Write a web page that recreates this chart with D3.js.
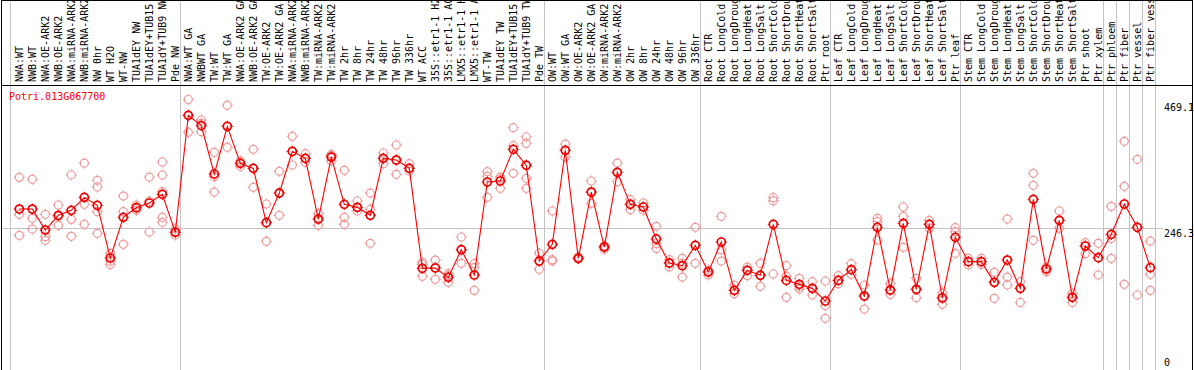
<!DOCTYPE html>
<html><head><meta charset="utf-8">
<script src="https://cdn.jsdelivr.net/npm/d3@7"></script>
<style>
html,body{margin:0;padding:0;background:#fff;overflow:hidden}
text{font-family:"DejaVu Sans Mono",monospace;font-size:10px}
</style>
</head><body>
<svg id="chart" width="1194" height="370"></svg>
<script>
const geneId = "Potri.013G067700";

const categories = [
  "NWA:WT","NWB:WT","NWA:OE-ARK2","NWB:OE-ARK2","NWA:miRNA-ARK2","NWB:miRNA-ARK2","NW 0hr","WT H2O","WT-NW","TUA1dEY NW","TUA1dEY+TUB15 NW","TUA1dY+TUB9 NW","Pde NW",
  "NWA:WT GA","NWBWT GA","TW:WT","TW:WT GA","NWA:OE-ARK2 GA","NWB:OE-ARK2 GA","TW:OE-ARK2","TW:OE-ARK2 GA","NWA:miRNA-ARK2","NWB:miRNA-ARK2","TW:miRNA-ARK2","TW:miRNA-ARK2 GA","TW 2hr","TW 8hr","TW 24hr","TW 48hr","TW 96hr","TW 336hr","WT ACC","35S::etr1-1 H2O","35S::etr1-1 ACC","LMX5::etr1-1 H2O","LMX5::etr1-1 ACC","WT-TW","TUA1dEY TW","TUA1dEY+TUB15 TW","TUA1dY+TUB9 TW","Pde TW",
  "OW:WT","OW:WT GA","OW:OE-ARK2","OW:OE-ARK2 GA","OW:miRNA-ARK2","OW:miRNA-ARK2 GA","OW 2hr","OW 8hr","OW 24hr","OW 48hr","OW 96hr","OW 336hr",
  "Root CTR","Root LongCold","Root LongDrought","Root LongHeat","Root LongSalt","Root ShortCold","Root ShortDrought","Root ShortHeat","Root ShortSalt","Ptr root",
  "Leaf CTR","Leaf LongCold","Leaf LongDrought","Leaf LongHeat","Leaf LongSalt","Leaf ShortCold","Leaf ShortDrought","Leaf ShortHeat","Leaf ShortSalt","Ptr leaf",
  "Stem CTR","Stem LongCold","Stem LongDrought","Stem LongHeat","Stem LongSalt","Stem ShortCold","Stem ShortDrought","Stem ShortHeat","Stem ShortSalt","Ptr shoot","Ptr xylem",
  "Ptr phloem","Ptr fiber","Ptr vessel","Ptr fiber vessel"
];

// index of the last sample of each group (a grey separator follows it)
const groupEnds = [12, 40, 52, 62, 72, 83, 84, 85, 86, 87];

const means = [
  279.5,279.5,243.2,268.6,277.2,299.7,285.9,194.7,265.1,281.8,289.9,304.9,239.1,
  441.7,423.8,340.1,422.6,358.6,349.9,255.9,307.2,379.3,367.2,262.2,369.5,287.6,282.4,268.6,367.2,364.3,349.9,176.8,177.4,161.2,209.1,165.3,326.3,328.0,382.8,355.1,189.5,
  218.4,381.1,194.1,308.9,213.7,343.0,287.6,283.0,227.6,186.0,181.4,216.6,
  170.5,222.4,138.7,173.4,164.7,253.0,156.0,149.1,142.2,120.3,
  156.0,174.5,128.9,247.8,139.3,254.7,140.5,253.0,125.5,230.5,
  188.4,188.4,152.6,191.2,142.2,296.3,175.7,259.9,126.6,215.5,195.3,
  235.7,288.2,247.8,178.0
];

const replicates = [
  [334.3,270.3,233.9],[330.9,263.4,244.9],[270.3,231.6,225.3],[286.5,266.8,251.3],[338.4,261.6,232.2],[359.1,287.6,253.0],[329.2,317.6,274.9,237.4],[202.8,189.5,183.7],[302.0,274.9,218.4],[286.5,281.8,277.2],[334.9,293.4,239.7],[360.9,338.4,309.5,265.1,256.5],[244.9,240.3,234.5],
  [469.1,412.2,441.7],[433.6,427.8,413.4],[377.6,335.5,308.9],[459.0,422.6,386.3],[362.6,353.4,358.6],[382.8,317.0,349.9],[288.2,223.6,255.9],[344.7,268.6,307.2],[405.3,355.7,379.3],[375.3,360.3,367.2],[271.4,251.3,262.2],[374.1,362.6,371.8],[346.5,265.1,253.0],[293.4,276.1,282.4],[307.2,278.9,220.1],[376.5,358.0,367.2],[390.3,339.5,364.3],[358.0,345.3,349.9],[187.2,183.7,163.0],[191.2,178.0,157.8],[167.6,164.1,152.6],[231.1,209.1,185.5],[184.9,178.0,138.7],[344.1,336.1,299.7],[334.9,331.5,315.3],[420.3,389.2,341.3],[404.2,393.2,355.7,332.6,315.3],[203.4,175.1,189.5],
  [276.1,191.8,189.5],[392.0,369.5,381.1],[197.0,193.0,194.1],[328.0,289.3,308.9],[216.1,209.7,213.7],[359.1,326.8,343.0],[295.7,278.4,287.6],[289.9,277.2,283.0],[249.5,219.5,211.4],[191.8,179.1,186.0],[194.1,161.8,185.5],[247.8,185.5,216.6],
  [173.9,165.3,170.5],[266.8,209.1,189.5],[148.0,133.0,138.7],[179.1,164.1,173.4],[185.5,165.3,145.7],[299.1,293.9,167.0],[181.4,163.5,126.6],[159.5,145.1,141.0],[153.7,130.7,142.2],[154.9,112.2,90.3],
  [164.1,150.3,156.0],[184.9,166.4,174.5],[148.0,106.4,128.9],[263.4,257.6,225.9],[150.3,131.8,139.3],[283.0,266.8,213.2],[159.5,126.0,140.5],[259.9,246.1,253.0],[134.1,114.5,125.5],[247.2,240.3,202.8],
  [194.1,182.6,188.4],[194.1,183.7,188.4],[169.9,124.9,152.6],[262.2,161.8,148.0],[153.7,117.9,142.2],[341.3,320.5,225.3],[179.1,171.1,175.7],[276.1,246.1,259.9],[133.0,117.9,126.6],[221.2,202.2,215.5],[220.1,165.3,195.3],
  [284.1,228.7,194.1],[396.7,318.8,149.1],[365.5,130.7,247.8],[224.1,166.4,138.7]
];

const yTickValues = [0, 246.3, 469.1];
const yTickLabels = ["0", "246.3", "469.1"];

const W = 1194, H = 370;
const svg = d3.select("#chart");

const x = d3.scaleBand().domain(d3.range(categories.length)).range([10, 10 + 13 * categories.length]).padding(0);
const px = i => x(i) + 9.3;
const y = d3.scaleLinear().domain([0, 469.1]).range([370.5, 99.5]);

const grey = "#c4c4c4";
const crisp = v => Math.round(v) + 0.5;

// vertical separators
const seps = [x(0)].concat(groupEnds.map(i => x(i) + x.bandwidth() + 1));
svg.append("g").selectAll("line").data(seps).join("line")
  .attr("x1", d => crisp(d)).attr("x2", d => crisp(d))
  .attr("y1", 0).attr("y2", H)
  .attr("stroke", grey).attr("stroke-width", 1);

// horizontal mid gridline
svg.append("line")
  .attr("x1", 1).attr("x2", 1163)
  .attr("y1", crisp(y(246.3))).attr("y2", crisp(y(246.3)))
  .attr("stroke", grey).attr("stroke-width", 1);

// frame
svg.append("line").attr("x1", 1.5).attr("x2", 1.5).attr("y1", 0).attr("y2", H).attr("stroke", "#000");
svg.append("line").attr("x1", 1192.5).attr("x2", 1192.5).attr("y1", 0).attr("y2", H).attr("stroke", "#000");
svg.append("line").attr("x1", 1).attr("x2", 1193).attr("y1", 0.5).attr("y2", 0.5).attr("stroke", "#000");
svg.append("line").attr("x1", 1).attr("x2", 1193).attr("y1", 85.5).attr("y2", 85.5).attr("stroke", "#000");

// category labels (rotated)
svg.append("g").selectAll("text").data(categories).join("text")
  .attr("transform", (d, i) => `translate(${px(i) + 3.2},82) rotate(-90)`)
  .attr("fill", "#000")
  .text(d => d);

// y tick labels
const tickOffsets = {"0": -4.5, "246.3": 8.8, "469.1": 11.5};
svg.append("g").selectAll("text").data(yTickValues).join("text")
  .attr("x", 1164)
  .attr("y", (d, i) => y(d) + tickOffsets[yTickLabels[i]])
  .attr("fill", "#000")
  .text((d, i) => yTickLabels[i]);

// gene title
svg.append("text").attr("x", 9).attr("y", 100).attr("fill", "#ff0000").text(geneId);

function marker(g, cx, cy, color, sw) {
  const r = 4;
  g.append("circle").attr("cx", cx).attr("cy", cy).attr("r", r)
    .attr("fill", "none").attr("stroke", color).attr("stroke-width", sw);
  const t = [[0, -1], [0, 1], [-1, 0], [1, 0]];
  t.forEach(([dx, dy]) => {
    g.append("line")
      .attr("x1", cx + dx * (r)).attr("y1", cy + dy * (r))
      .attr("x2", cx + dx * (r + 1.6)).attr("y2", cy + dy * (r + 1.6))
      .attr("stroke", color).attr("stroke-width", 1);
  });
}

// replicate points
const repG = svg.append("g");
replicates.forEach((arr, i) => {
  arr.forEach(v => marker(repG, px(i), y(v), "#f09a9a", 1.2));
});

// mean line
const line = d3.line().x((d, i) => px(i)).y(d => y(d));
svg.append("path").datum(means).attr("d", line)
  .attr("fill", "none").attr("stroke", "#ff0000").attr("stroke-width", 1.1);

// mean points
const meanG = svg.append("g");
means.forEach((v, i) => marker(meanG, px(i), y(v), "#ee0000", 1.7));
</script>
</body></html>
